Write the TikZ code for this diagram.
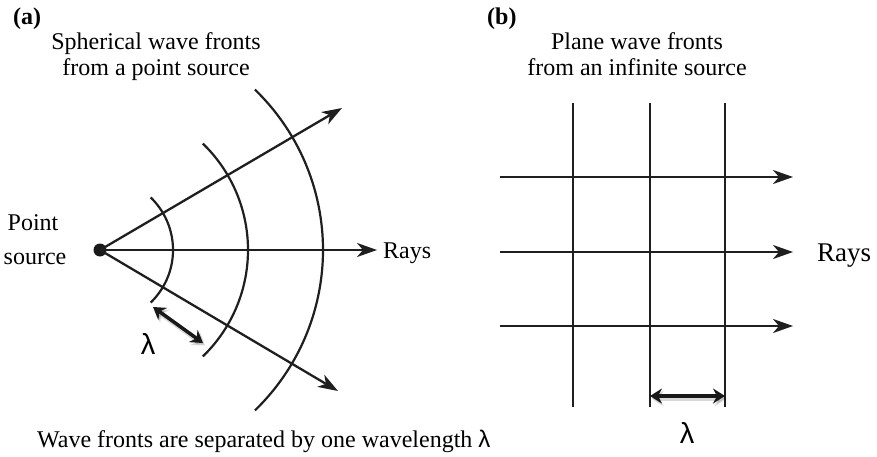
\documentclass[tikz,border=0pt]{standalone}
\usepackage{fontspec}
\setmainfont{Liberation Serif}
\newfontfamily\lamfont{Liberation Sans}
\usetikzlibrary{arrows.meta}
\begin{document}
\begin{tikzpicture}[x=1pt,y=-1pt,
  txt/.style={inner sep=0pt, anchor=base, font=\fontsize{24}{26}\selectfont},
  ray/.style={line width=2.3pt, draw=black!88, -{Stealth[length=20pt,width=14pt,inset=6pt]}},
  front/.style={line width=2.2pt, draw=black!88},
  lamarrow/.style={line width=3.5pt, draw=black!90, {Stealth[length=12pt,width=15pt,inset=4pt]}-{Stealth[length=12pt,width=15pt,inset=4pt]}},
  lamshadow/.style={line width=5pt, draw=black, opacity=0.15, {Stealth[length=12pt,width=16pt,inset=4pt]}-{Stealth[length=12pt,width=16pt,inset=4pt]}},
  lamtxt/.style={inner sep=0pt, font=\lamfont\fontsize{29}{30}\selectfont}
]
\useasboundingbox (0,0) rectangle (877,457);

% ---------- (a) ----------
\node[txt, anchor=base west, font=\fontsize{24}{26}\selectfont\bfseries] (la) at (13,25) {(a)};
\node[txt] (ta1) at (156,50) {Spherical wave fronts};
\node[txt] (ta2) at (156,76) {from a point source};
\node[txt] (ps1) at (33,230) {Point};
\node[txt] (ps2) at (35,264) {source};

\node[circle, fill=black!90, inner sep=0pt, minimum size=13pt] (src) at (100,250) {};
\coordinate (tipU) at (342,108);
\coordinate (tipM) at (377,250);
\coordinate (tipL) at (338,391);

\foreach \r in {73,148,223}
  \draw[front] plot[domain=-46:46, samples=80, smooth] ({100+\r*cos(\x)}, {250+\r*sin(\x)});

\draw[ray] (src.center) -- (tipU);
\draw[ray] (src.center) -- (tipM);
\draw[ray] (src.center) -- (tipL);
\node[txt, anchor=base west] (raysA) at (383,258) {Rays};

\coordinate (la1) at (153,307);
\coordinate (la2) at (203,343);
\draw[lamshadow] ([shift={(2,2.5)}]la1) -- ([shift={(2,2.5)}]la2);
\draw[lamarrow] (la1) -- (la2);
\node[lamtxt] (lamA) at (148,344) {λ};

\node[txt, anchor=base west] (bottom) at (37,447) {Wave fronts are separated by one wavelength {\lamfont λ}};

% ---------- (b) ----------
\node[txt, anchor=base west, font=\fontsize{24}{26}\selectfont\bfseries] (lb) at (487,25) {(b)};
\node[txt] (tb1) at (637,50) {Plane wave fronts};
\node[txt] (tb2) at (637,76) {from an infinite source};

\foreach \xx [count=\i] in {573,650,725} {
  \coordinate (vt\i) at (\xx,103);
  \coordinate (vb\i) at (\xx,407);
  \draw[front, line width=2.4pt] (vt\i) -- (vb\i);
}
\foreach \yy [count=\i] in {177,252,326} {
  \coordinate (hs\i) at (500,\yy);
  \coordinate (he\i) at (793,\yy);
  \draw[ray] (hs\i) -- (he\i);
}
\node[txt, anchor=base west, font=\fontsize{27}{29}\selectfont] (raysB) at (817,261) {Rays};

\coordinate (lb1) at (650,396);
\coordinate (lb2) at (725,396);
\draw[lamshadow] ([shift={(1.5,2.5)}]lb1) -- ([shift={(1.5,2.5)}]lb2);
\draw[lamarrow] (lb1) -- (lb2);
\node[lamtxt] (lamB) at (687,433) {λ};
\end{tikzpicture}
\end{document}
